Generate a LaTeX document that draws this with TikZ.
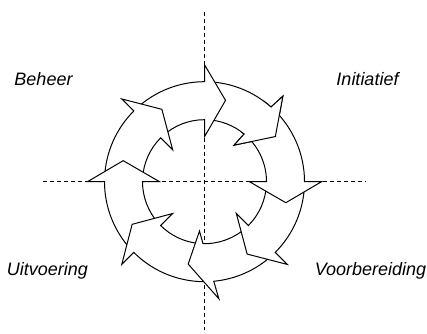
\documentclass[tikz,border=0pt]{standalone}
\usepackage{fontspec}
\setmainfont{Liberation Sans}
% one curved arrow of the ring:
% #1 outer start, #2 inner start, #3 outer junction, #4 inner junction,
% #5/#6 outer barb angle/radius, #7/#8 inner barb angle/radius, #9 tip angle
\newcommand{\ringarrow}[9]{%
  \filldraw[arrowshape] (#1:100) arc[start angle=#1, end angle=#3, radius=100]
    -- (#5:#6) -- (#9:84) -- (#7:#8) -- (#4:62)
    arc[start angle=#4, end angle=#2, radius=62] -- cycle;}
\begin{document}
\begin{tikzpicture}[x=0.75pt,y=0.75pt,
  arrowshape/.style={draw=black, fill=white, line width=0.75pt, line join=miter},
  axisline/.style={draw=black, line width=0.75pt, dash pattern=on 3pt off 2.25pt},
  phase/.style={font=\itshape\fontsize{13.5}{16}\selectfont, inner sep=0pt, anchor=base}]
\useasboundingbox[fill=white] (0,0) rectangle (427,334);
\coordinate (O) at (204.5,152.3);
\coordinate (vtop) at (204.5,322);
\coordinate (vbot) at (204.5,4);
\coordinate (hleft) at (43,152.3);
\coordinate (hright) at (366,152.3);

% dashed axes behind the ring
\draw[axisline] (vtop) -- (vbot);
\draw[axisline] (hleft) -- (hright);

% ring of eight clockwise arrows
\begin{scope}[shift={(O)}]
  \ringarrow{87.5}{87.5}{48.3}{50.3}{47.5}{116}{51}{47}{32.5}
  \ringarrow{132.5}{132.5}{90}{90}{90}{117}{90}{45}{75.5}
  \ringarrow{177.5}{177.5}{135}{135}{135}{117}{135}{45}{120.5}
  \ringarrow{222.5}{222.5}{180}{180}{180}{117}{180}{45}{165.5}
  \ringarrow{272.5}{266}{225}{225}{225}{117}{225}{45}{210.5}
  \ringarrow{312.5}{312.5}{275.3}{268.6}{277}{118}{264.2}{49.6}{258.8}
  \ringarrow{357.5}{357.5}{315}{315}{315}{117}{315}{45}{300.5}
  \ringarrow{46}{47.5}{0}{0}{0}{117}{0}{45}{-14.5}
  % head of the first arrow laid again over the start of the last one
  \begin{scope}
    \clip (0,0) -- (15:150) -- (35:150) -- (54:150) -- cycle;
    \ringarrow{87.5}{87.5}{48.3}{50.3}{47.5}{116}{51}{47}{32.5}
  \end{scope}
\end{scope}

% phase labels
\node[phase] (beheer) at (43.5,248) {Beheer};
\node[phase] (initiatief) at (367.5,248) {Initiatief};
\node[phase] (uitvoering) at (47.5,58) {Uitvoering};
\node[phase] (voorbereiding) at (370.5,58) {Voorbereiding};
\end{tikzpicture}
\end{document}
